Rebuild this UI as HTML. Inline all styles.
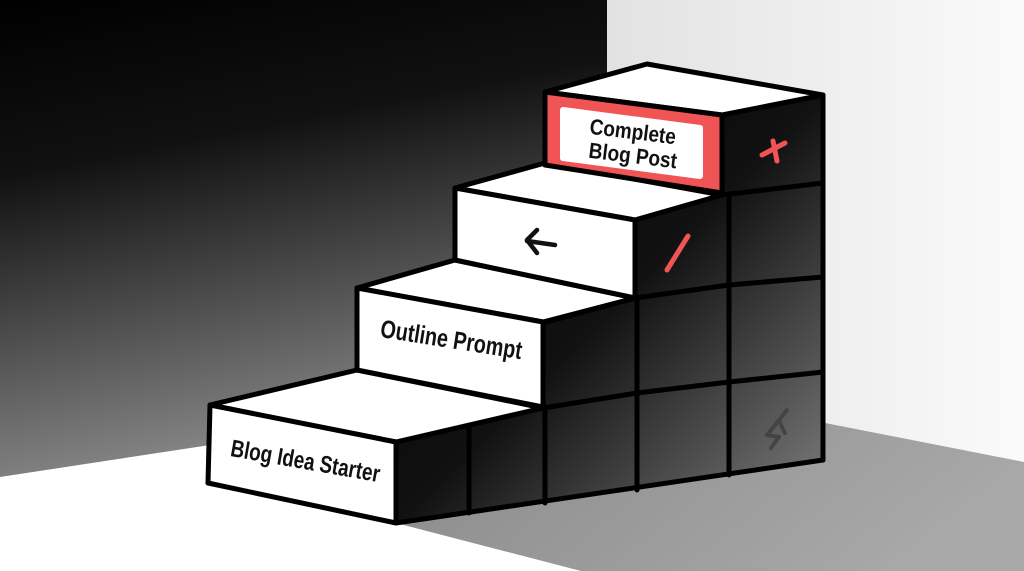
<!DOCTYPE html>
<html><head><meta charset="utf-8"><style>
html,body{margin:0;padding:0;width:1024px;height:571px;overflow:hidden;background:#fff}
text{font-family:"Liberation Sans",sans-serif;font-weight:bold;fill:#111}
</style></head><body>
<svg width="1024" height="571" viewBox="0 0 1024 571" xmlns="http://www.w3.org/2000/svg">
<defs>
<linearGradient id="wall" x1="0" y1="0" x2="0.25" y2="1">
<stop offset="0" stop-color="#000"/><stop offset="0.35" stop-color="#111"/><stop offset="1" stop-color="#8a8a8a"/></linearGradient>
<linearGradient id="rwall" x1="0" y1="0" x2="1" y2="0">
<stop offset="0" stop-color="#e2e2e2"/><stop offset="1" stop-color="#fafafa"/></linearGradient>
<linearGradient id="shadow" x1="0" y1="0" x2="1" y2="0.3">
<stop offset="0" stop-color="#8a8a8a"/><stop offset="1" stop-color="#a8a8a8"/></linearGradient>
<linearGradient id="side" x1="0" y1="0" x2="1" y2="1">
<stop offset="0" stop-color="#000"/><stop offset="0.5" stop-color="#111"/><stop offset="1" stop-color="#808080"/></linearGradient>
</defs>
<rect width="1024" height="571" fill="#fff"/>
<rect x="607" y="0" width="417" height="571" fill="url(#rwall)"/>
<polygon points="0,0 607,0 607,440 210,445 0,477" fill="url(#wall)"/>
<polygon points="396,523 820,460 820,422 1024,462 1024,571 581,571" fill="url(#shadow)"/>
<g stroke="#000" stroke-width="5" stroke-linejoin="round" stroke-linecap="round">
<polygon points="396,442 543,408 543,323 635,298 635,220 722,195 722,115 823,95 823,460 396,523" fill="url(#side)"/>
<polyline points="543,408 637,393 729,382 823,372" fill="none"/>
<polyline points="635,298 729,285 823,277" fill="none"/>
<polyline points="722,195 823,183" fill="none"/>
<line x1="469" y1="425" x2="469" y2="513" />
<line x1="545" y1="407" x2="545" y2="503" />
<line x1="637" y1="298" x2="637" y2="490" />
<line x1="729" y1="195" x2="729" y2="475" />
<polygon points="210,405 357,370 543,408 396,442" fill="#fff"/>
<polygon points="210,405 396,442 396,523 208,483" fill="#fff"/>
<polygon points="357,288 455,260 635,298 543,322" fill="#fff"/>
<polygon points="357,288 543,322 543,407 357,370" fill="#fff"/>
<polygon points="455,188 545,163 722,195 635,220" fill="#fff"/>
<polygon points="455,188 635,220 635,298 455,260" fill="#fff"/>
<polygon points="545,92 647,64 823,95 722,115" fill="#fff"/>
<polygon points="545,92 722,115 722,193 545,165" fill="#f05454"/>
</g>
<polygon points="563,110 700,128 700,176 563,158" fill="#fff" stroke="#fff" stroke-width="6" stroke-linejoin="round"/>
<text transform="translate(632,139) rotate(7) scale(0.95,1.1)" font-size="20" text-anchor="middle">Complete</text>
<text transform="translate(632,163) rotate(7) scale(0.95,1.1)" font-size="20" text-anchor="middle">Blog Post</text>
<text transform="translate(450,348) rotate(9) scale(0.9,1.15)" font-size="22" text-anchor="middle">Outline Prompt</text>
<text transform="translate(304,469) rotate(10) scale(0.9,1.15)" font-size="21" text-anchor="middle">Blog Idea Starter</text>
<g stroke="#111" stroke-width="4.5" fill="none" stroke-linecap="round" stroke-linejoin="round">
<polyline points="537,230 527,240 537,253"/><line x1="527" y1="241" x2="555" y2="245"/>
</g>
<g stroke="#f05454" stroke-width="5" stroke-linecap="round">
<line x1="762" y1="155" x2="785" y2="143"/><line x1="773" y1="141" x2="777" y2="161"/>
<line x1="667" y1="270" x2="688" y2="236"/>
</g>
<g stroke="#444" stroke-width="4" fill="none" stroke-linecap="round" stroke-linejoin="round">
<polyline points="787,410 767,435 779,437 771,448"/><polyline points="779,421 785,433"/>
</g>
</svg>
</body></html>
